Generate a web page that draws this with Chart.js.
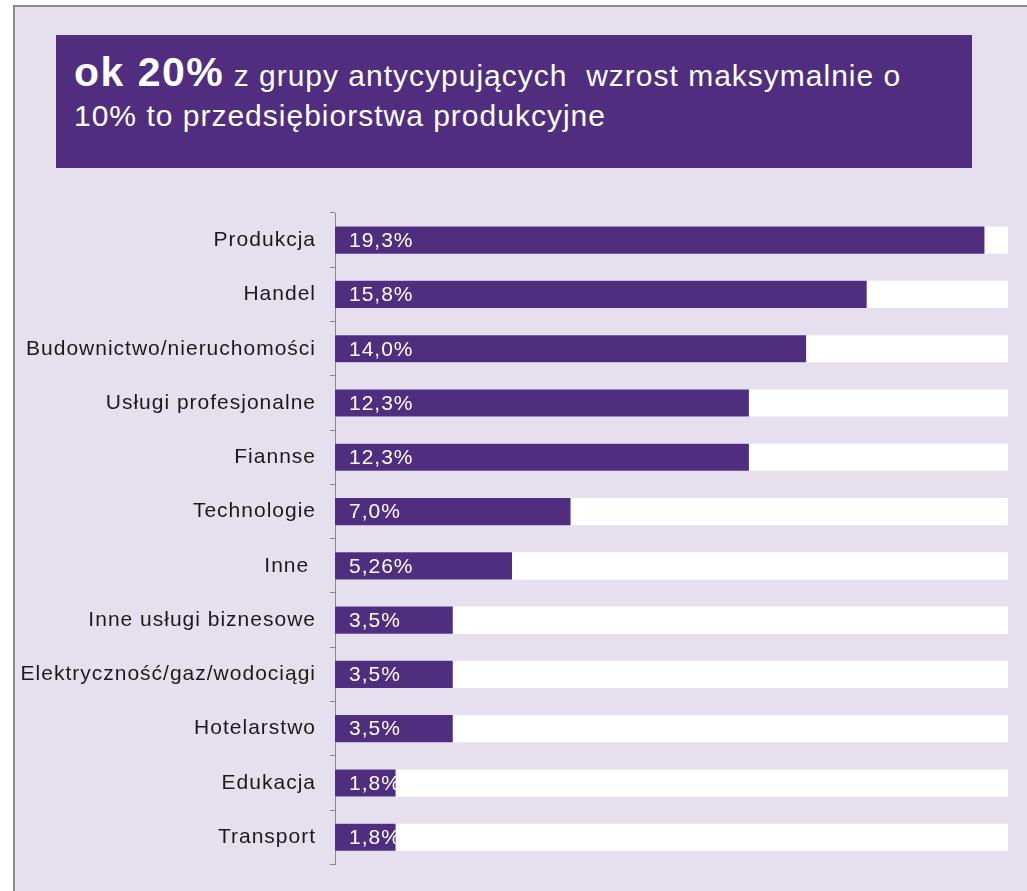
<!DOCTYPE html>
<html>
<head>
<meta charset="utf-8">
<script src="https://cdn.jsdelivr.net/npm/chart.js@4"></script>
<style>
  html,body{margin:0;padding:0;background:#fff;}
  body{width:1027px;height:891px;position:relative;overflow:hidden;font-family:"Liberation Sans",Arial,sans-serif;}
  #frame{position:absolute;left:13px;top:5px;width:1014px;height:886px;background:#e6e0ee;border-left:2px solid #8c8c8c;border-top:2px solid #8c8c8c;}
  #cv{position:absolute;left:0;top:0;}
  #titlebox{position:absolute;left:56px;top:35px;width:916px;height:133px;background:#502d7e;color:#fff;}
  .ln{position:absolute;left:18px;white-space:pre;font-size:30px;line-height:30px;letter-spacing:1px;}
  .ln b{font-size:41px;letter-spacing:1.5px;}
</style>
</head>
<body>
<div id="frame"></div>
<div id="titlebox">
  <div class="ln" style="top:22px"><b>ok 20%</b> z grupy antycypujących  wzrost maksymalnie o</div>
  <div class="ln" style="top:66px">10% to przedsiębiorstwa produkcyjne</div>
</div>
<canvas id="cv" width="1027" height="891"></canvas>
<script>
const categories = ['Produkcja','Handel','Budownictwo/nieruchomości','Usługi profesjonalne','Fiannse','Technologie','Inne ','Inne usługi biznesowe','Elektryczność/gaz/wodociągi','Hotelarstwo','Edukacja','Transport'];
const shares = [19.3, 15.8, 14.0, 12.3, 12.3, 7.0, 5.26, 3.5, 3.5, 3.5, 1.8, 1.8];
const shareLabels = ['19,3%','15,8%','14,0%','12,3%','12,3%','7,0%','5,26%','3,5%','3,5%','3,5%','1,8%','1,8%'];
const trackMax = 20;
const track = categories.map(() => trackMax);

const PURPLE = '#4f2d7f';
const FONT = '"Liberation Sans", Arial, sans-serif';

// value text inside each bar, white
const barText = {
  id: 'barText',
  beforeDraw(chart) { chart.ctx.letterSpacing = '1px'; },
  afterDatasetsDraw(chart) {
    const ctx = chart.ctx;
    const meta = chart.getDatasetMeta(0);
    ctx.save();
    ctx.font = '21px ' + FONT;
    ctx.fillStyle = '#fff';
    ctx.textAlign = 'left';
    ctx.textBaseline = 'middle';
    meta.data.forEach((bar, i) => {
      ctx.fillText(shareLabels[i], bar.base + 14, bar.y + 1);
    });
    ctx.restore();
  }
};

new Chart(document.getElementById('cv'), {
  type: 'bar',
  data: {
    labels: categories,
    datasets: [
      { data: shares, backgroundColor: PURPLE, grouped: false, order: 1,
        barPercentage: 0.5, categoryPercentage: 1 },
      { data: track, backgroundColor: '#ffffff', grouped: false, order: 2,
        barPercentage: 0.5, categoryPercentage: 1 }
    ]
  },
  options: {
    indexAxis: 'y',
    responsive: false,
    animation: false,
    layout: { padding: { left: 0, right: 19, top: 213, bottom: 26 } },
    plugins: { legend: { display: false }, tooltip: { enabled: false } },
    scales: {
      x: { display: false, min: 0, max: trackMax },
      y: {
        grid: { drawOnChartArea: false, drawTicks: true, tickLength: 5, color: '#888', offset: true },
        border: { color: '#888', width: 1 },
        ticks: { font: { family: FONT, size: 21 }, color: '#1a1a1a', padding: 14 },
        afterFit(s) { s.width = 335; }
      }
    }
  },
  plugins: [barText]
});
</script>
</body>
</html>
